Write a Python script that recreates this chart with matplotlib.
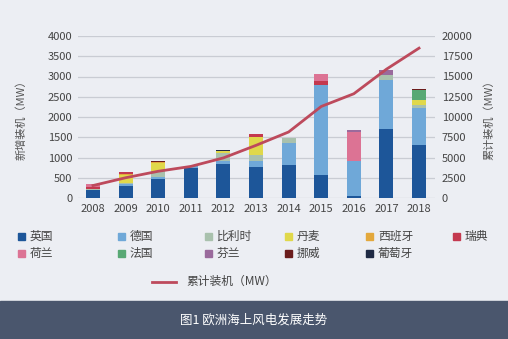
import matplotlib
matplotlib.use("Agg")
import matplotlib.pyplot as plt
from matplotlib.patches import Rectangle
from matplotlib.lines import Line2D
import numpy as np

plt.rcParams['font.family'] = ['Noto Sans CJK SC', 'DejaVu Sans']

years = ['2008', '2009', '2010', '2011', '2012', '2013', '2014', '2015', '2016', '2017', '2018']
countries = ['英国', '德国', '比利时', '丹麦', '西班牙', '瑞典', '荷兰', '法国', '芬兰', '挪威', '葡萄牙']
colors = ['#1d5699', '#6fa8d8', '#a9c1ad', '#e0d84a', '#e3a83c', '#c4394f',
          '#dc7394', '#58a874', '#9a6a9c', '#6b1c1c', '#1f2a44']

uk       = [200, 290, 460, 730, 845, 755, 808, 575, 60, 1710, 1320]
germany  = [0, 60, 50, 50, 80, 150, 550, 2220, 860, 1210, 900]
belgium  = [20, 30, 150, 0, 185, 160, 125, 0, 0, 125, 65]
denmark  = [0, 200, 200, 0, 45, 450, 0, 0, 0, 0, 125]
spain    = [0, 20, 20, 0, 0, 0, 0, 0, 0, 0, 0]
sweden   = [50, 30, 0, 0, 0, 70, 0, 95, 0, 0, 0]
netherl  = [80, 0, 0, 0, 0, 0, 0, 165, 720, 0, 0]
france   = [0, 0, 0, 0, 0, 0, 0, 0, 0, 0, 245]
finland  = [0, 0, 20, 0, 0, 0, 0, 0, 40, 120, 0]
norway   = [0, 20, 20, 0, 0, 0, 0, 0, 0, 0, 30]
portugal = [0, 0, 0, 0, 25, 0, 0, 0, 0, 0, 0]
series = [uk, germany, belgium, denmark, spain, sweden, netherl, france, finland, norway, portugal]

cumulative = [1540, 2500, 3300, 3900, 4950, 6500, 8150, 11300, 12870, 15900, 18500]

W, H = 508, 339
fig = plt.figure(figsize=(W / 100, H / 100), dpi=100)
fig.patch.set_facecolor('#eceef3')

ax = fig.add_axes([78 / W, 1 - 198 / H, (435 - 78) / W, (198 - 36) / H])
ax.set_facecolor('none')
x = np.arange(len(years))
bottom = np.zeros(len(years))
for vals, c in zip(series, colors):
    ax.bar(x, vals, width=0.43, bottom=bottom, color=c, zorder=2, linewidth=0)
    bottom += np.array(vals)

ax.set_xlim(-0.46, len(years) - 1 + 0.49)
ax.set_ylim(0, 4000)
ax.set_yticks(np.arange(0, 4001, 500))
ax.set_xticks(x)
ax.set_xticklabels(years)
ax.grid(axis='y', color='#c9ccd3', linewidth=0.9, zorder=0)
for s in ax.spines.values():
    s.set_visible(False)
ax.tick_params(length=0, labelsize=8, colors='#444444', pad=4)
ax.set_ylabel('新增装机（MW）', fontsize=8, color='#555555', labelpad=15)

ax2 = ax.twinx()
ax2.set_ylim(0, 20000)
ax2.set_yticks(np.arange(0, 20001, 2500))
for s in ax2.spines.values():
    s.set_visible(False)
ax2.tick_params(length=0, labelsize=8, colors='#444444', pad=5)
ax2.plot(x, cumulative, color='#bd4a5c', linewidth=2.0, zorder=3)
ax2.set_ylabel('累计装机（MW）', fontsize=8, color='#555555', rotation=90, labelpad=8)

# legend (manual layout)
col_x = [18, 118, 205, 285, 366, 453]
row_y = [236, 253]
for i, (name, c) in enumerate(zip(countries, colors)):
    r, cidx = divmod(i, 6)
    px, py = col_x[cidx], row_y[r]
    fig.patches.append(Rectangle((px / W, 1 - (py + 3.5) / H), 7 / W, 7 / H,
                                 transform=fig.transFigure, color=c, figure=fig))
    fig.text((px + 12) / W, 1 - py / H, name, fontsize=8.5, color='#444444',
             va='center', ha='left')

fig.add_artist(Line2D([152 / W, 176 / W], [1 - 282 / H, 1 - 282 / H],
                      transform=fig.transFigure, color='#bd4a5c', linewidth=2.0))
fig.text(186 / W, 1 - 281 / H, '累计装机（MW）', fontsize=8.5, color='#444444',
         va='center', ha='left')

# caption band
fig.patches.append(Rectangle((0, 0), 1, 38 / H, transform=fig.transFigure,
                             color='#4a566d', figure=fig))
fig.text(0.5, 19 / H, '图1 欧洲海上风电发展走势', fontsize=9, color='white',
         ha='center', va='center')

fig.savefig('out.png', dpi=100, facecolor=fig.get_facecolor())
